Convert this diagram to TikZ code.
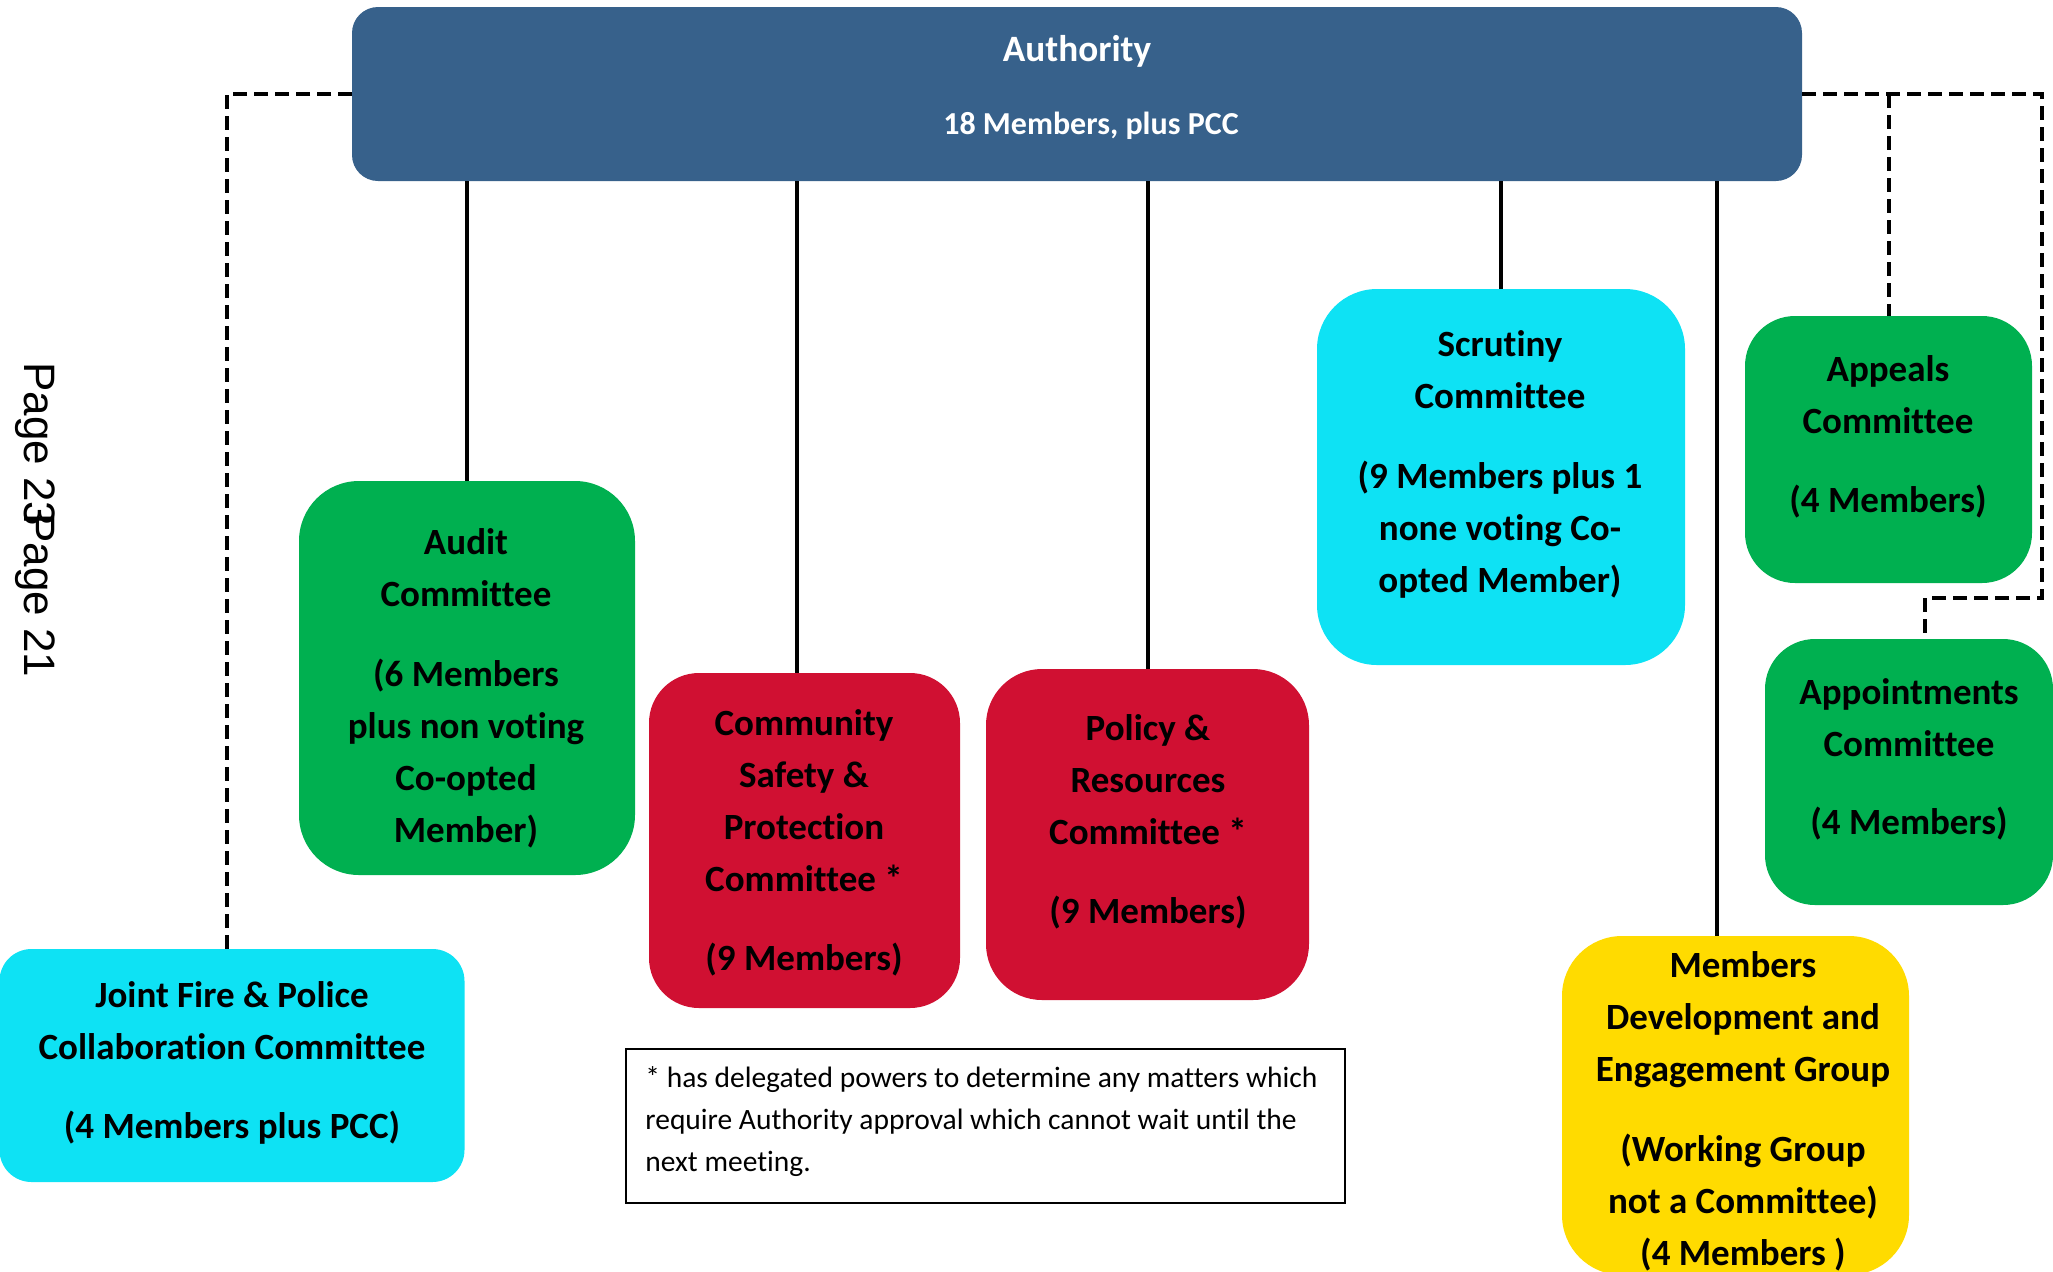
\documentclass[tikz,border=0pt]{standalone}
\usepackage{fontspec}
\setmainfont{Carlito}[Ligatures=NoCommon]
\newfontfamily\pagefont{Liberation Sans}
\definecolor{authblue}{RGB}{55,97,139}
\definecolor{cyanbox}{RGB}{14,226,244}
\definecolor{greenbox}{RGB}{0,176,80}
\definecolor{redbox}{RGB}{208,16,50}
\definecolor{yellowbox}{RGB}{255,219,0}
\tikzset{
  box/.style={inner sep=0pt, outer sep=0pt, draw=none},
  lbl/.style={font=\fontsize{18.5}{26}\selectfont\bfseries, align=center, inner sep=0pt, text=black},
  conn/.style={line width=2pt},
  dconn/.style={line width=2pt, dash pattern=on 7pt off 3.5pt},
  pagelbl/.style={font=\pagefont\fontsize{22}{26}\selectfont, rotate=-90, anchor=base west, inner sep=0pt}
}
\begin{document}
\begin{tikzpicture}[x=0.5pt,y=-0.5pt]
\useasboundingbox (0,0) rectangle (2053,1271);
\clip (0,0) rectangle (2053,1271);

% boxes
\node[box, fill=authblue, rounded corners=13pt, minimum width=725pt, minimum height=87pt] (auth) at (1077,94) {};
\node[box, fill=cyanbox, rounded corners=16pt, minimum width=232.5pt, minimum height=116.5pt] (joint) at (232,1065.5) {};
\node[box, fill=greenbox, rounded corners=30pt, minimum width=168pt, minimum height=197pt] (audit) at (467,678) {};
\node[box, fill=redbox, rounded corners=25pt, minimum width=155.5pt, minimum height=167.5pt] (comm) at (804.5,840.5) {};
\node[box, fill=redbox, rounded corners=28pt, minimum width=161.5pt, minimum height=165.5pt] (policy) at (1147.5,834.5) {};
\node[box, fill=cyanbox, rounded corners=30pt, minimum width=184pt, minimum height=188pt] (scrut) at (1501,477) {};
\node[box, fill=yellowbox, rounded corners=30pt, minimum width=173.5pt, minimum height=169.5pt] (members) at (1735.5,1105.5) {};
\node[box, fill=greenbox, rounded corners=25pt, minimum width=143.5pt, minimum height=133.5pt] (appeals) at (1888.5,449.5) {};
\node[box, fill=greenbox, rounded corners=25pt, minimum width=144pt, minimum height=133pt] (appoint) at (1909,772) {};
\node[box, draw=black, line width=1pt, minimum width=359.5pt, minimum height=77pt] (note) at (985.5,1126) {};

% texts
\node[lbl, text=white, font=\fontsize{18.6}{22}\selectfont\bfseries] (authT) at (1077,51) {Authority};
\node[lbl, text=white, font=\fontsize{16}{20}\selectfont\bfseries] (authS) at (1091,126) {18 Members, plus PCC};
\node[lbl] (jointT) at (232,1062.5) {Joint Fire \& Police\\Collaboration Committee\\[13.5pt](4 Members plus PCC)};
\node[lbl] (auditT) at (466,688.5) {Audit\\Committee\\[14pt](6 Members\\plus non voting\\Co-opted\\Member)};
\node[lbl] (commT) at (804,842.5) {Community\\Safety \&\\Protection\\Committee *\\[13.5pt](9 Members)};
\node[lbl] (policyT) at (1148,821.5) {Policy \&\\Resources\\Committee *\\[13.5pt](9 Members)};
\node[lbl] (scrutT) at (1500,464.5) {Scrutiny\\Committee\\[14pt](9 Members plus 1\\none voting Co-\\opted Member)};
\node[lbl] (membersT) at (1743,1111.5) {Members\\Development and\\Engagement Group\\[14pt](Working Group\\not a Committee)\\(4 Members )};
\node[lbl] (appealsT) at (1888,436.5) {Appeals\\Committee\\[13.5pt](4 Members)};
\node[lbl] (appointT) at (1909,759.5) {Appointments\\Committee\\[13pt](4 Members)};
\node[align=left, anchor=west, inner sep=0pt, font=\fontsize{14.75}{21}\selectfont] (noteT) at (645,1122) {* has delegated powers to determine any matters which\\require Authority approval which cannot wait until the\\next meeting.};

\node[pagelbl] (p23) at (25,362) {Page 23};
\node[pagelbl] (p21) at (25,513) {Page 21};

% solid connectors
\coordinate (cComm) at ([xshift=-3.75pt]comm.north);
\coordinate (cMem) at ([xshift=-9.25pt]members.north);
\draw[conn] (auth.south -| audit.north) -- (audit.north);
\draw[conn] (auth.south -| cComm) -- (cComm);
\draw[conn] (auth.south -| policy.north) -- (policy.north);
\draw[conn] (auth.south -| scrut.north) -- (scrut.north);
\draw[conn] (auth.south -| cMem) -- (cMem);

% dashed connectors
\coordinate (cJ) at ([xshift=-2.5pt]joint.north);
\draw[dconn] (auth.west) -| (cJ);
\coordinate (cR1) at (2042,94);
\coordinate (cR2) at (2042,598);
\coordinate (cAp) at ([xshift=8pt]appoint.north);
\draw[dconn] (auth.east) -- (cR1) -- (cR2) -| (cAp);
\draw[dconn] (appeals.north |- auth.east) -- (appeals.north);
\end{tikzpicture}
\end{document}
